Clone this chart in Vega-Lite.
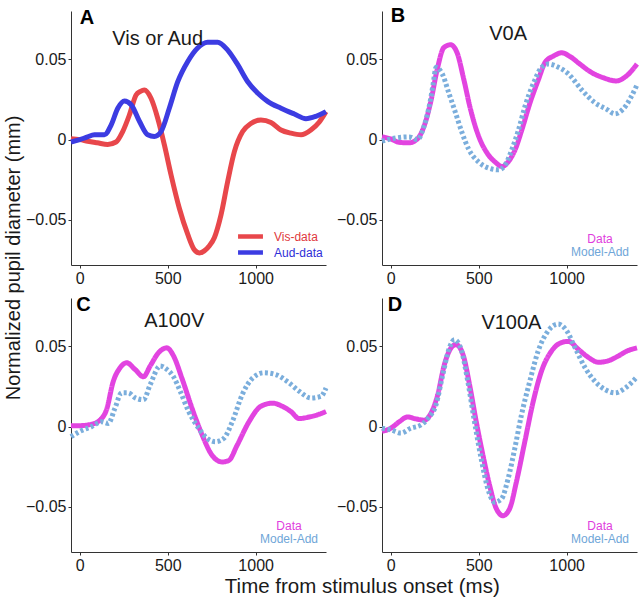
{
  "$schema": "https://vega.github.io/schema/vega-lite/v6.json",
  "padding": {"left": 3, "top": 6, "right": 3, "bottom": 4},
  "config": {
    "view": {"stroke": null},
    "font": "Liberation Sans",
    "axis": {"grid": false, "domainColor": "#333333", "domainWidth": 1, "tickColor": "#333333", "tickSize": 3, "labelFont": "Liberation Sans", "labelFontSize": 16, "labelColor": "#1a1a1a", "labelPadding": 2, "title": null},
    "title": {"font": "Liberation Sans", "fontSize": 20, "fontWeight": "normal", "color": "#1a1a1a"},
    "legend": {"labelFont": "Liberation Sans", "labelFontSize": 12, "title": null, "padding": 0}
  },
  "datasets": {
    "A": [
      {"t": -50, "v": 0.0006, "series": "Vis-data"}, {"t": 0, "v": 0.0, "series": "Vis-data"}, {"t": 45, "v": -0.001, "series": "Vis-data"}, {"t": 100, "v": -0.002, "series": "Vis-data"}, {"t": 159, "v": -0.003, "series": "Vis-data"}, {"t": 206, "v": -0.0015, "series": "Vis-data"}, {"t": 244, "v": 0.005, "series": "Vis-data"}, {"t": 282, "v": 0.0153, "series": "Vis-data"}, {"t": 320, "v": 0.0277, "series": "Vis-data"}, {"t": 345, "v": 0.030, "series": "Vis-data"}, {"t": 367, "v": 0.0308, "series": "Vis-data"}, {"t": 405, "v": 0.0257, "series": "Vis-data"}, {"t": 443, "v": 0.0133, "series": "Vis-data"}, {"t": 481, "v": -0.0033, "series": "Vis-data"}, {"t": 519, "v": -0.022, "series": "Vis-data"}, {"t": 566, "v": -0.0427, "series": "Vis-data"}, {"t": 614, "v": -0.059, "series": "Vis-data"}, {"t": 652, "v": -0.0686, "series": "Vis-data"}, {"t": 680, "v": -0.0705, "series": "Vis-data"}, {"t": 708, "v": -0.0692, "series": "Vis-data"}, {"t": 737, "v": -0.066, "series": "Vis-data"}, {"t": 765, "v": -0.061, "series": "Vis-data"}, {"t": 803, "v": -0.0468, "series": "Vis-data"}, {"t": 841, "v": -0.026, "series": "Vis-data"}, {"t": 879, "v": -0.0075, "series": "Vis-data"}, {"t": 926, "v": 0.005, "series": "Vis-data"}, {"t": 973, "v": 0.010, "series": "Vis-data"}, {"t": 1030, "v": 0.0122, "series": "Vis-data"}, {"t": 1087, "v": 0.0107, "series": "Vis-data"}, {"t": 1144, "v": 0.006, "series": "Vis-data"}, {"t": 1201, "v": 0.004, "series": "Vis-data"}, {"t": 1258, "v": 0.003, "series": "Vis-data"}, {"t": 1314, "v": 0.006, "series": "Vis-data"}, {"t": 1362, "v": 0.011, "series": "Vis-data"}, {"t": 1400, "v": 0.0174, "series": "Vis-data"},
      {"t": -50, "v": -0.0015, "series": "Aud-data"}, {"t": 0, "v": 0.0, "series": "Aud-data"}, {"t": 40, "v": 0.0015, "series": "Aud-data"}, {"t": 83, "v": 0.003, "series": "Aud-data"}, {"t": 140, "v": 0.003, "series": "Aud-data"}, {"t": 178, "v": 0.009, "series": "Aud-data"}, {"t": 216, "v": 0.0195, "series": "Aud-data"}, {"t": 254, "v": 0.024, "series": "Aud-data"}, {"t": 292, "v": 0.0217, "series": "Aud-data"}, {"t": 339, "v": 0.0114, "series": "Aud-data"}, {"t": 386, "v": 0.003, "series": "Aud-data"}, {"t": 424, "v": 0.002, "series": "Aud-data"}, {"t": 462, "v": 0.005, "series": "Aud-data"}, {"t": 509, "v": 0.0195, "series": "Aud-data"}, {"t": 557, "v": 0.036, "series": "Aud-data"}, {"t": 614, "v": 0.0486, "series": "Aud-data"}, {"t": 670, "v": 0.057, "series": "Aud-data"}, {"t": 727, "v": 0.0606, "series": "Aud-data"}, {"t": 784, "v": 0.0606, "series": "Aud-data"}, {"t": 841, "v": 0.0557, "series": "Aud-data"}, {"t": 898, "v": 0.0466, "series": "Aud-data"}, {"t": 955, "v": 0.036, "series": "Aud-data"}, {"t": 1011, "v": 0.029, "series": "Aud-data"}, {"t": 1068, "v": 0.0238, "series": "Aud-data"}, {"t": 1144, "v": 0.0195, "series": "Aud-data"}, {"t": 1220, "v": 0.0159, "series": "Aud-data"}, {"t": 1286, "v": 0.013, "series": "Aud-data"}, {"t": 1343, "v": 0.0145, "series": "Aud-data"}, {"t": 1400, "v": 0.0174, "series": "Aud-data"}
    ],
    "B": [
      {"t": -50, "v": 0.0017, "series": "Data"}, {"t": 0, "v": 0.0004, "series": "Data"}, {"t": 47, "v": -0.0017, "series": "Data"}, {"t": 104, "v": -0.002, "series": "Data"}, {"t": 151, "v": 0.0004, "series": "Data"}, {"t": 189, "v": 0.0083, "series": "Data"}, {"t": 226, "v": 0.023, "series": "Data"}, {"t": 264, "v": 0.0437, "series": "Data"}, {"t": 302, "v": 0.0573, "series": "Data"}, {"t": 340, "v": 0.059, "series": "Data"}, {"t": 377, "v": 0.054, "series": "Data"}, {"t": 415, "v": 0.0375, "series": "Data"}, {"t": 453, "v": 0.019, "series": "Data"}, {"t": 500, "v": 0.002, "series": "Data"}, {"t": 547, "v": -0.0083, "series": "Data"}, {"t": 594, "v": -0.014, "series": "Data"}, {"t": 632, "v": -0.0167, "series": "Data"}, {"t": 670, "v": -0.0135, "series": "Data"}, {"t": 708, "v": -0.006, "series": "Data"}, {"t": 745, "v": 0.006, "series": "Data"}, {"t": 792, "v": 0.023, "series": "Data"}, {"t": 840, "v": 0.0375, "series": "Data"}, {"t": 877, "v": 0.048, "series": "Data"}, {"t": 925, "v": 0.052, "series": "Data"}, {"t": 972, "v": 0.054, "series": "Data"}, {"t": 1019, "v": 0.0517, "series": "Data"}, {"t": 1075, "v": 0.047, "series": "Data"}, {"t": 1142, "v": 0.0417, "series": "Data"}, {"t": 1208, "v": 0.0385, "series": "Data"}, {"t": 1283, "v": 0.0365, "series": "Data"}, {"t": 1340, "v": 0.0396, "series": "Data"}, {"t": 1400, "v": 0.047, "series": "Data"},
      {"t": -50, "v": -0.001, "series": "Model-Add"}, {"t": 28, "v": 0.001, "series": "Model-Add"}, {"t": 104, "v": 0.0017, "series": "Model-Add"}, {"t": 151, "v": 0.0, "series": "Model-Add"}, {"t": 189, "v": 0.0083, "series": "Model-Add"}, {"t": 226, "v": 0.025, "series": "Model-Add"}, {"t": 240, "v": 0.034, "series": "Model-Add"}, {"t": 258, "v": 0.045, "series": "Model-Add"}, {"t": 292, "v": 0.041, "series": "Model-Add"}, {"t": 330, "v": 0.029, "series": "Model-Add"}, {"t": 368, "v": 0.0167, "series": "Model-Add"}, {"t": 406, "v": 0.004, "series": "Model-Add"}, {"t": 443, "v": -0.006, "series": "Model-Add"}, {"t": 500, "v": -0.014, "series": "Model-Add"}, {"t": 557, "v": -0.0177, "series": "Model-Add"}, {"t": 613, "v": -0.0188, "series": "Model-Add"}, {"t": 651, "v": -0.0156, "series": "Model-Add"}, {"t": 689, "v": -0.006, "series": "Model-Add"}, {"t": 726, "v": 0.006, "series": "Model-Add"}, {"t": 764, "v": 0.021, "series": "Model-Add"}, {"t": 811, "v": 0.035, "series": "Model-Add"}, {"t": 858, "v": 0.045, "series": "Model-Add"}, {"t": 896, "v": 0.047, "series": "Model-Add"}, {"t": 953, "v": 0.045, "series": "Model-Add"}, {"t": 1009, "v": 0.041, "series": "Model-Add"}, {"t": 1085, "v": 0.031, "series": "Model-Add"}, {"t": 1160, "v": 0.023, "series": "Model-Add"}, {"t": 1226, "v": 0.019, "series": "Model-Add"}, {"t": 1274, "v": 0.016, "series": "Model-Add"}, {"t": 1321, "v": 0.019, "series": "Model-Add"}, {"t": 1400, "v": 0.034, "series": "Model-Add"}
    ],
    "C": [
      {"t": -50, "v": 0.0006, "series": "Data"}, {"t": 0, "v": 0.0006, "series": "Data"}, {"t": 67, "v": 0.0015, "series": "Data"}, {"t": 114, "v": 0.004, "series": "Data"}, {"t": 152, "v": 0.0105, "series": "Data"}, {"t": 190, "v": 0.028, "series": "Data"}, {"t": 229, "v": 0.0366, "series": "Data"}, {"t": 267, "v": 0.0397, "series": "Data"}, {"t": 314, "v": 0.0356, "series": "Data"}, {"t": 362, "v": 0.031, "series": "Data"}, {"t": 400, "v": 0.0377, "series": "Data"}, {"t": 448, "v": 0.046, "series": "Data"}, {"t": 495, "v": 0.049, "series": "Data"}, {"t": 533, "v": 0.044, "series": "Data"}, {"t": 581, "v": 0.030, "series": "Data"}, {"t": 638, "v": 0.0115, "series": "Data"}, {"t": 695, "v": -0.005, "series": "Data"}, {"t": 752, "v": -0.0178, "series": "Data"}, {"t": 810, "v": -0.022, "series": "Data"}, {"t": 848, "v": -0.021, "series": "Data"}, {"t": 895, "v": -0.0115, "series": "Data"}, {"t": 962, "v": 0.003, "series": "Data"}, {"t": 1029, "v": 0.0126, "series": "Data"}, {"t": 1095, "v": 0.0146, "series": "Data"}, {"t": 1152, "v": 0.0126, "series": "Data"}, {"t": 1200, "v": 0.0094, "series": "Data"}, {"t": 1248, "v": 0.005, "series": "Data"}, {"t": 1305, "v": 0.006, "series": "Data"}, {"t": 1362, "v": 0.0077, "series": "Data"}, {"t": 1400, "v": 0.0094, "series": "Data"},
      {"t": -50, "v": -0.0063, "series": "Model-Add"}, {"t": 0, "v": -0.003, "series": "Model-Add"}, {"t": 67, "v": 0.0, "series": "Model-Add"}, {"t": 124, "v": 0.003, "series": "Model-Add"}, {"t": 162, "v": 0.002, "series": "Model-Add"}, {"t": 200, "v": 0.0115, "series": "Model-Add"}, {"t": 238, "v": 0.021, "series": "Model-Add"}, {"t": 276, "v": 0.021, "series": "Model-Add"}, {"t": 314, "v": 0.018, "series": "Model-Add"}, {"t": 362, "v": 0.0167, "series": "Model-Add"}, {"t": 400, "v": 0.026, "series": "Model-Add"}, {"t": 457, "v": 0.0377, "series": "Model-Add"}, {"t": 495, "v": 0.0356, "series": "Model-Add"}, {"t": 533, "v": 0.031, "series": "Model-Add"}, {"t": 571, "v": 0.022, "series": "Model-Add"}, {"t": 619, "v": 0.0094, "series": "Model-Add"}, {"t": 676, "v": -0.001, "series": "Model-Add"}, {"t": 724, "v": -0.0073, "series": "Model-Add"}, {"t": 771, "v": -0.0094, "series": "Model-Add"}, {"t": 819, "v": -0.0073, "series": "Model-Add"}, {"t": 867, "v": 0.003, "series": "Model-Add"}, {"t": 924, "v": 0.020, "series": "Model-Add"}, {"t": 981, "v": 0.030, "series": "Model-Add"}, {"t": 1048, "v": 0.0335, "series": "Model-Add"}, {"t": 1114, "v": 0.0324, "series": "Model-Add"}, {"t": 1181, "v": 0.028, "series": "Model-Add"}, {"t": 1248, "v": 0.022, "series": "Model-Add"}, {"t": 1314, "v": 0.0178, "series": "Model-Add"}, {"t": 1371, "v": 0.0188, "series": "Model-Add"}, {"t": 1400, "v": 0.024, "series": "Model-Add"}
    ],
    "D": [
      {"t": -50, "v": -0.003, "series": "Data"}, {"t": 0, "v": -0.001, "series": "Data"}, {"t": 48, "v": 0.003, "series": "Data"}, {"t": 95, "v": 0.006, "series": "Data"}, {"t": 143, "v": 0.0048, "series": "Data"}, {"t": 190, "v": 0.004, "series": "Data"}, {"t": 229, "v": 0.0084, "series": "Data"}, {"t": 267, "v": 0.0199, "series": "Data"}, {"t": 305, "v": 0.0387, "series": "Data"}, {"t": 343, "v": 0.049, "series": "Data"}, {"t": 371, "v": 0.051, "series": "Data"}, {"t": 410, "v": 0.045, "series": "Data"}, {"t": 448, "v": 0.026, "series": "Data"}, {"t": 486, "v": 0.003, "series": "Data"}, {"t": 524, "v": -0.0178, "series": "Data"}, {"t": 562, "v": -0.0366, "series": "Data"}, {"t": 600, "v": -0.051, "series": "Data"}, {"t": 638, "v": -0.0554, "series": "Data"}, {"t": 676, "v": -0.051, "series": "Data"}, {"t": 714, "v": -0.0345, "series": "Data"}, {"t": 762, "v": -0.0094, "series": "Data"}, {"t": 810, "v": 0.0157, "series": "Data"}, {"t": 857, "v": 0.0345, "series": "Data"}, {"t": 914, "v": 0.047, "series": "Data"}, {"t": 971, "v": 0.0523, "series": "Data"}, {"t": 1010, "v": 0.053, "series": "Data"}, {"t": 1067, "v": 0.048, "series": "Data"}, {"t": 1124, "v": 0.043, "series": "Data"}, {"t": 1181, "v": 0.040, "series": "Data"}, {"t": 1238, "v": 0.041, "series": "Data"}, {"t": 1295, "v": 0.044, "series": "Data"}, {"t": 1343, "v": 0.047, "series": "Data"}, {"t": 1400, "v": 0.049, "series": "Data"},
      {"t": -50, "v": -0.001, "series": "Model-Add"}, {"t": 0, "v": -0.002, "series": "Model-Add"}, {"t": 57, "v": -0.004, "series": "Model-Add"}, {"t": 114, "v": -0.001, "series": "Model-Add"}, {"t": 171, "v": 0.001, "series": "Model-Add"}, {"t": 210, "v": 0.005, "series": "Model-Add"}, {"t": 257, "v": 0.0136, "series": "Model-Add"}, {"t": 295, "v": 0.032, "series": "Model-Add"}, {"t": 333, "v": 0.049, "series": "Model-Add"}, {"t": 362, "v": 0.054, "series": "Model-Add"}, {"t": 400, "v": 0.048, "series": "Model-Add"}, {"t": 438, "v": 0.028, "series": "Model-Add"}, {"t": 476, "v": 0.003, "series": "Model-Add"}, {"t": 514, "v": -0.020, "series": "Model-Add"}, {"t": 552, "v": -0.0387, "series": "Model-Add"}, {"t": 590, "v": -0.047, "series": "Model-Add"}, {"t": 629, "v": -0.045, "series": "Model-Add"}, {"t": 667, "v": -0.0324, "series": "Model-Add"}, {"t": 705, "v": -0.0136, "series": "Model-Add"}, {"t": 743, "v": 0.0073, "series": "Model-Add"}, {"t": 790, "v": 0.028, "series": "Model-Add"}, {"t": 838, "v": 0.047, "series": "Model-Add"}, {"t": 895, "v": 0.0596, "series": "Model-Add"}, {"t": 952, "v": 0.0638, "series": "Model-Add"}, {"t": 1000, "v": 0.0596, "series": "Model-Add"}, {"t": 1048, "v": 0.049, "series": "Model-Add"}, {"t": 1105, "v": 0.0366, "series": "Model-Add"}, {"t": 1162, "v": 0.028, "series": "Model-Add"}, {"t": 1219, "v": 0.023, "series": "Model-Add"}, {"t": 1276, "v": 0.021, "series": "Model-Add"}, {"t": 1333, "v": 0.024, "series": "Model-Add"}, {"t": 1400, "v": 0.031, "series": "Model-Add"}
    ]
  },
  "title": {"text": "Normalized pupil diameter (mm)", "orient": "left", "anchor": "middle", "offset": 2, "dx": 44},
  "resolve": {"scale": {"color": "independent", "strokeDash": "independent", "x": "independent", "y": "independent"}},
  "vconcat": [
    {
      "title": {"text": "Time from stimulus onset (ms)", "orient": "bottom", "anchor": "middle", "offset": 4, "dx": 26, "fontSize": 20.5},
      "spacing": 8,
      "resolve": {"scale": {"color": "independent", "strokeDash": "independent", "x": "independent", "y": "independent"}},
      "vconcat": [
        {
          "spacing": 0,
          "resolve": {"scale": {"color": "independent", "strokeDash": "independent", "x": "independent", "y": "independent"}},
          "hconcat": [
            {
              "width": 255, "height": 254,
              "layer": [
                {
                  "data": {"name": "A"},
                  "mark": {"type": "line", "strokeWidth": 5, "interpolate": "monotone"},
                  "encoding": {
                    "x": {"field": "t", "type": "quantitative", "scale": {"domain": [-50, 1400], "nice": false, "zero": false}, "axis": {"values": [0, 500, 1000], "format": "d"}},
                    "y": {"field": "v", "type": "quantitative", "scale": {"domain": [-0.078, 0.08], "nice": false}, "axis": {"values": [-0.05, 0, 0.05], "format": ".2~f"}},
                    "color": {"field": "series", "type": "nominal", "sort": ["Vis-data", "Aud-data"], "scale": {"domain": ["Vis-data", "Aud-data"], "range": ["#E8474B", "#3C3CE2"]},
                      "legend": {"orient": "bottom-right", "symbolType": "M-3,0H3", "symbolSize": 69, "symbolStrokeWidth": 4.5, "labelOffset": 17, "rowPadding": -8, "offset": 3,
                        "encode": {"labels": {"update": {"fill": [{"test": "datum.value === 'Vis-data'", "value": "#E0383D"}, {"value": "#2E2ED8"}]}}}}}
                  }
                },
                {
                  "data": {"values": [{}]},
                  "mark": {"type": "text", "fontSize": 20, "fontWeight": "bold", "align": "left", "baseline": "alphabetic", "color": "#000000"},
                  "encoding": {"x": {"datum": 0}, "y": {"datum": 0.072}, "text": {"value": "A"}}
                },
                {
                  "data": {"values": [{}]},
                  "mark": {"type": "text", "fontSize": 20, "align": "center", "baseline": "alphabetic", "color": "#1a1a1a"},
                  "encoding": {"x": {"datum": 443}, "y": {"datum": 0.059}, "text": {"value": "Vis or Aud"}}
                }
              ]
            },
            {
              "width": 255, "height": 254,
              "layer": [
                {
                  "data": {"name": "B"},
                  "mark": {"type": "line", "strokeWidth": 5, "interpolate": "monotone"},
                  "encoding": {
                    "x": {"field": "t", "type": "quantitative", "scale": {"domain": [-50, 1400], "nice": false, "zero": false}, "axis": {"values": [0, 500, 1000], "format": "d"}},
                    "y": {"field": "v", "type": "quantitative", "scale": {"domain": [-0.078, 0.08], "nice": false}, "axis": {"values": [-0.05, 0, 0.05], "format": ".2~f"}},
                    "color": {"field": "series", "type": "nominal", "scale": {"domain": ["Data", "Model-Add"], "range": ["#E244E0", "#7BAEDC"]},
                      "legend": {"orient": "bottom-right", "symbolOpacity": 0, "symbolSize": 100, "labelAlign": "center", "labelOffset": 0, "rowPadding": 1, "offset": 7,
                        "encode": {"labels": {"update": {"fill": [{"test": "datum.value === 'Data'", "value": "#E03DDE"}, {"value": "#6FA6D8"}]}}}}},
                    "strokeDash": {"field": "series", "type": "nominal", "scale": {"domain": ["Data", "Model-Add"], "range": [[1, 0], [3, 2.5]]}, "legend": null}
                  }
                },
                {
                  "data": {"values": [{}]},
                  "mark": {"type": "text", "fontSize": 20, "fontWeight": "bold", "align": "left", "baseline": "alphabetic", "color": "#000000"},
                  "encoding": {"x": {"datum": 0}, "y": {"datum": 0.073}, "text": {"value": "B"}}
                },
                {
                  "data": {"values": [{}]},
                  "mark": {"type": "text", "fontSize": 20, "align": "center", "baseline": "alphabetic", "color": "#1a1a1a"},
                  "encoding": {"x": {"datum": 667}, "y": {"datum": 0.062}, "text": {"value": "V0A"}}
                }
              ]
            }
          ]
        },
        {
          "spacing": 0,
          "resolve": {"scale": {"color": "independent", "strokeDash": "independent", "x": "independent", "y": "independent"}},
          "hconcat": [
            {
              "width": 255, "height": 254,
              "layer": [
                {
                  "data": {"name": "C"},
                  "mark": {"type": "line", "strokeWidth": 5, "interpolate": "monotone"},
                  "encoding": {
                    "x": {"field": "t", "type": "quantitative", "scale": {"domain": [-50, 1400], "nice": false, "zero": false}, "axis": {"values": [0, 500, 1000], "format": "d"}},
                    "y": {"field": "v", "type": "quantitative", "scale": {"domain": [-0.078, 0.08], "nice": false}, "axis": {"values": [-0.05, 0, 0.05], "format": ".2~f"}},
                    "color": {"field": "series", "type": "nominal", "scale": {"domain": ["Data", "Model-Add"], "range": ["#E244E0", "#7BAEDC"]},
                      "legend": {"orient": "bottom-right", "symbolOpacity": 0, "symbolSize": 100, "labelAlign": "center", "labelOffset": 0, "rowPadding": 1, "offset": 7,
                        "encode": {"labels": {"update": {"fill": [{"test": "datum.value === 'Data'", "value": "#E03DDE"}, {"value": "#6FA6D8"}]}}}}},
                    "strokeDash": {"field": "series", "type": "nominal", "scale": {"domain": ["Data", "Model-Add"], "range": [[1, 0], [3, 2.5]]}, "legend": null}
                  }
                },
                {
                  "data": {"values": [{}]},
                  "mark": {"type": "text", "fontSize": 20, "fontWeight": "bold", "align": "left", "baseline": "alphabetic", "color": "#000000"},
                  "encoding": {"x": {"datum": -20}, "y": {"datum": 0.072}, "text": {"value": "C"}}
                },
                {
                  "data": {"values": [{}]},
                  "mark": {"type": "text", "fontSize": 20, "align": "center", "baseline": "alphabetic", "color": "#1a1a1a"},
                  "encoding": {"x": {"datum": 537}, "y": {"datum": 0.0617}, "text": {"value": "A100V"}}
                }
              ]
            },
            {
              "width": 255, "height": 254,
              "layer": [
                {
                  "data": {"name": "D"},
                  "mark": {"type": "line", "strokeWidth": 5, "interpolate": "monotone"},
                  "encoding": {
                    "x": {"field": "t", "type": "quantitative", "scale": {"domain": [-50, 1400], "nice": false, "zero": false}, "axis": {"values": [0, 500, 1000], "format": "d"}},
                    "y": {"field": "v", "type": "quantitative", "scale": {"domain": [-0.078, 0.08], "nice": false}, "axis": {"values": [-0.05, 0, 0.05], "format": ".2~f"}},
                    "color": {"field": "series", "type": "nominal", "scale": {"domain": ["Data", "Model-Add"], "range": ["#E244E0", "#7BAEDC"]},
                      "legend": {"orient": "bottom-right", "symbolOpacity": 0, "symbolSize": 100, "labelAlign": "center", "labelOffset": 0, "rowPadding": 1, "offset": 7,
                        "encode": {"labels": {"update": {"fill": [{"test": "datum.value === 'Data'", "value": "#E03DDE"}, {"value": "#6FA6D8"}]}}}}},
                    "strokeDash": {"field": "series", "type": "nominal", "scale": {"domain": ["Data", "Model-Add"], "range": [[1, 0], [3, 2.5]]}, "legend": null}
                  }
                },
                {
                  "data": {"values": [{}]},
                  "mark": {"type": "text", "fontSize": 20, "fontWeight": "bold", "align": "left", "baseline": "alphabetic", "color": "#000000"},
                  "encoding": {"x": {"datum": -17}, "y": {"datum": 0.072}, "text": {"value": "D"}}
                },
                {
                  "data": {"values": [{}]},
                  "mark": {"type": "text", "fontSize": 20, "align": "center", "baseline": "alphabetic", "color": "#1a1a1a"},
                  "encoding": {"x": {"datum": 686}, "y": {"datum": 0.0605}, "text": {"value": "V100A"}}
                }
              ]
            }
          ]
        }
      ]
    }
  ]
}
